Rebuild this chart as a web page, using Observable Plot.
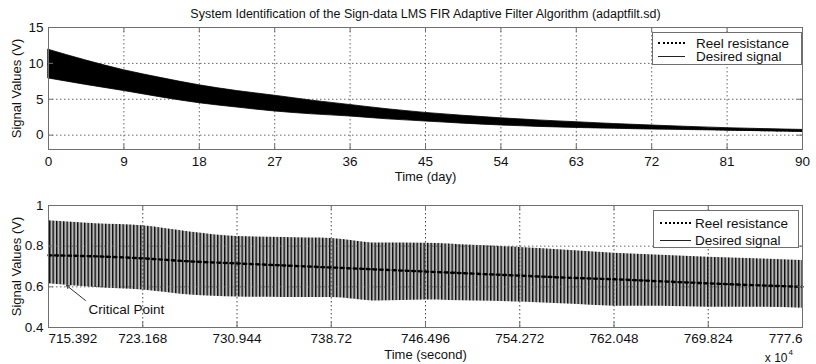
<!DOCTYPE html>
<html>
<head>
<meta charset="utf-8">
<script src="https://cdn.jsdelivr.net/npm/d3@7"></script>
<script src="https://cdn.jsdelivr.net/npm/@observablehq/plot@0.6"></script>
<style>
  body { margin: 0; background: #fff; font-family: "Liberation Sans", Arial, sans-serif; }
  #wrap { position: relative; width: 816px; height: 364px; overflow: hidden; background: #fff; }
  #wrap > svg { position: absolute; left: 0; }
  .legend { position: absolute; background: #fff; border: 1px solid #6f6f6f; box-sizing: border-box; font-size: 13.5px; color: #111; }
  .legend .sample { position: absolute; height: 0; }
  .legend .lab { position: absolute; white-space: nowrap; line-height: 11px; transform: translateY(-50%); }
</style>
</head>
<body>
<div id="wrap"></div>
<script>
// ---------- data: top panel (time in days) ----------
const titleText = "System Identification of the Sign-data LMS FIR Adaptive Filter Algorithm (adaptfilt.sd)";
const days      = [0, 4.5, 9, 13.5, 18, 22.5, 27, 31.5, 36, 40.5, 45, 49.5, 54, 58.5, 63, 67.5, 72, 76.5, 81, 85.5, 90];
const topUpper  = [11.9, 10.4, 9.05, 7.95, 6.95, 6.15, 5.5, 4.8, 4.2, 3.6, 3.1, 2.7, 2.35, 2.05, 1.8, 1.55, 1.34, 1.15, 0.97, 0.84, 0.73];
const topLower  = [7.9, 7.0, 6.15, 5.25, 4.45, 3.85, 3.3, 2.9, 2.6, 2.2, 1.9, 1.6, 1.35, 1.15, 1.0, 0.89, 0.78, 0.71, 0.63, 0.54, 0.47];
const topResist = [9.9, 8.7, 7.6, 6.6, 5.7, 5.0, 4.4, 3.85, 3.4, 2.9, 2.5, 2.15, 1.85, 1.6, 1.4, 1.22, 1.06, 0.93, 0.8, 0.69, 0.6];
const dayTicks  = [0, 9, 18, 27, 36, 45, 54, 63, 72, 81, 90];
const topYTicks = [0, 5, 10, 15];
const topYDomain = [-2, 15];

// ---------- data: bottom panel (time in 10^4 seconds) ----------
const secX      = [715.392, 719.28, 723.168, 727.056, 730.944, 734.832, 738.72, 742.608, 746.496, 750.384, 754.272, 758.16, 762.048, 765.936, 769.824, 773.712, 777.6];
const botUpper  = [0.925, 0.91, 0.90, 0.87, 0.848, 0.843, 0.838, 0.815, 0.814, 0.804, 0.794, 0.78, 0.765, 0.755, 0.745, 0.738, 0.73];
const botLower  = [0.615, 0.597, 0.585, 0.56, 0.55, 0.548, 0.548, 0.53, 0.535, 0.53, 0.525, 0.515, 0.505, 0.505, 0.50, 0.50, 0.495];
const botResist = [0.755, 0.75, 0.74, 0.725, 0.715, 0.705, 0.695, 0.685, 0.675, 0.665, 0.655, 0.645, 0.637, 0.627, 0.617, 0.608, 0.60];
const secTicks  = [715.392, 723.168, 730.944, 738.72, 746.496, 754.272, 762.048, 769.824, 777.6];
const secTickLabels = ["715.392", "723.168", "730.944", "738.72", "746.496", "754.272", "762.048", "769.824", "777.6"];
const botYTicks = [0.4, 0.6, 0.8, 1];
const botYTickLabels = ["0.4", "0.6", "0.8", "1"];
const critLabel = ["Critical Point"];
const critText  = [718.69, 0.486];                  // label anchor (x, y)
const critArrow = [718.44, 0.533, 716.88, 0.607];   // x1, y1, x2, y2

const legendLabels = ["Reel resistance", "Desired signal"];

// ---------- shared settings ----------
const W = 816, ML = 48, MR = 14;
const PW = W - ML - MR;
const FONT = '"Liberation Sans", Arial, sans-serif';
const gridStyle = {stroke: "#555", strokeOpacity: 0.9, strokeWidth: 1, strokeDasharray: "1.5,2.5"};
const frameColor = "#707070";
const T = {fill: "#111", lineAnchor: "middle"};

function innerTicks(xt, yt, PH) {
  return [
    Plot.ruleX(xt, {x: d => d, insetTop: PH - 5, stroke: frameColor}),
    Plot.ruleX(xt, {x: d => d, insetBottom: PH - 5, stroke: frameColor}),
    Plot.ruleY(yt, {y: d => d, insetRight: PW - 5, stroke: frameColor}),
    Plot.ruleY(yt, {y: d => d, insetLeft: PW - 5, stroke: frameColor})
  ];
}

// ---------- top panel ----------
const topData = days.map((t, i) => ({t, hi: topUpper[i], lo: topLower[i], r: topResist[i]}));
const TOP_H = 182, TOP_MT = 27, TOP_MB = 33, TOP_PH = TOP_H - TOP_MT - TOP_MB;
const topPlot = Plot.plot({
  width: W, height: TOP_H,
  marginLeft: ML, marginRight: MR, marginTop: TOP_MT, marginBottom: TOP_MB,
  style: {fontFamily: FONT, fontSize: "13.5px", color: "#111", background: "transparent", overflow: "visible"},
  x: {domain: [0, 90], axis: null},
  y: {domain: topYDomain, ticks: topYTicks, tickSize: 0, tickPadding: 5, label: null},
  marks: [
    Plot.ruleX(dayTicks.slice(1, -1), {x: d => d, ...gridStyle}),
    Plot.ruleY(topYTicks.slice(0, -1), {y: d => d, ...gridStyle}),
    Plot.areaY(topData, {x: "t", y1: "lo", y2: "hi", fill: "#000", stroke: "#000", strokeWidth: 0.8, curve: "monotone-x"}),
    Plot.line(topData, {x: "t", y: "r", stroke: "#000", strokeWidth: 2, strokeDasharray: "2,2", curve: "monotone-x"}),
    Plot.frame({stroke: frameColor}),
    ...innerTicks(dayTicks, topYTicks, TOP_PH),
    Plot.text(dayTicks, {x: d => d, text: d => String(d), frameAnchor: "bottom", dy: 12, ...T}),
    Plot.text(["Time (day)"], {text: d => d, frameAnchor: "bottom", dy: 27, fontSize: 13, ...T}),
    Plot.text(["Signal Values (V)"], {text: d => d, frameAnchor: "left", dx: -32, rotate: -90, textAnchor: "middle", fontSize: 13, ...T}),
    Plot.text([titleText], {text: d => d, frameAnchor: "top", dy: -14, textAnchor: "middle", fontSize: 12.5, ...T})
  ]
});
topPlot.style.top = "0px";

// ---------- bottom panel ----------
const botData = secX.map((t, i) => ({t, hi: botUpper[i], lo: botLower[i], r: botResist[i]}));
const BOT_H = 182, BOT_MT = 23, BOT_MB = 37, BOT_PH = BOT_H - BOT_MT - BOT_MB;
const lastI = secTicks.length - 1;
const botPlot = Plot.plot({
  width: W, height: BOT_H,
  marginLeft: ML, marginRight: MR, marginTop: BOT_MT, marginBottom: BOT_MB,
  style: {fontFamily: FONT, fontSize: "13.5px", color: "#111", background: "transparent", overflow: "visible"},
  x: {domain: [secTicks[0], secTicks[lastI]], axis: null},
  y: {domain: [0.4, 1], ticks: botYTicks, tickFormat: d => botYTickLabels[botYTicks.indexOf(d)], tickSize: 0, tickPadding: 5, label: null},
  marks: [
    Plot.areaY(botData, {x: "t", y1: "lo", y2: "hi", fill: "#888", curve: "monotone-x"}),
    Plot.ruleX(secTicks.slice(1, -1), {x: d => d, ...gridStyle, stroke: "#333"}),
    Plot.ruleY(botYTicks.slice(1, -1), {y: d => d, ...gridStyle}),
    Plot.line(botData, {x: "t", y: "r", stroke: "#000", strokeWidth: 2.4, strokeDasharray: "3,3.5", curve: "monotone-x"}),
    Plot.frame({stroke: frameColor}),
    ...innerTicks(secTicks, botYTicks, BOT_PH),
    Plot.text([0], {x: i => secTicks[i], text: i => secTickLabels[i], frameAnchor: "bottom", dy: 11, textAnchor: "start", ...T}),
    Plot.text(d3.range(1, lastI), {x: i => secTicks[i], text: i => secTickLabels[i], frameAnchor: "bottom", dy: 11, textAnchor: "middle", ...T}),
    Plot.text([lastI], {x: i => secTicks[i], text: i => secTickLabels[i], frameAnchor: "bottom", dy: 11, textAnchor: "end", ...T}),
    Plot.text(["Time (second)"], {text: d => d, frameAnchor: "bottom", dy: 27, textAnchor: "middle", fontSize: 13, ...T}),
    Plot.text(["x 10"], {text: d => d, frameAnchor: "bottom-right", dx: -15, dy: 31, textAnchor: "end", fontSize: 12, ...T}),
    Plot.text(["4"], {text: d => d, frameAnchor: "bottom-right", dx: -14, dy: 25, textAnchor: "start", fontSize: 8, ...T}),
    Plot.text(["Signal Values (V)"], {text: d => d, frameAnchor: "left", dx: -32, rotate: -90, textAnchor: "middle", fontSize: 13, ...T}),
    Plot.arrow([critArrow], {x1: d => d[0], y1: d => d[1], x2: d => d[2], y2: d => d[3], stroke: "#333", strokeWidth: 1, headLength: 5}),
    Plot.text(critLabel, {x: () => critText[0], y: () => critText[1], text: d => d, textAnchor: "start", fontSize: 13.5, ...T})
  ]
});
botPlot.style.top = "182px";

// pattern for the dense oscillation of the desired signal
const defs = d3.select(botPlot).insert("defs", ":first-child");
const pat = defs.append("pattern").attr("id", "vlines").attr("patternUnits", "userSpaceOnUse")
  .attr("x", 0).attr("y", 0).attr("width", 3.5).attr("height", 20);
pat.append("rect").attr("width", 3.5).attr("height", 20).attr("fill", "#b8b8b8");
pat.append("rect").attr("width", 1.4).attr("height", 20).attr("fill", "#0c0c0c");
d3.select(botPlot).selectAll('g[aria-label="area"]').attr("fill", "url(#vlines)")
  .selectAll("path").attr("fill", "url(#vlines)");

const wrap = document.getElementById("wrap");
wrap.appendChild(topPlot);
wrap.appendChild(botPlot);

// ---------- legends ----------
function addLegend(left, top, w, h, rowsY, sx0, sx1, tx) {
  const box = document.createElement("div");
  box.className = "legend";
  Object.assign(box.style, {left: left + "px", top: top + "px", width: w + "px", height: h + "px"});
  legendLabels.forEach((label, i) => {
    const s = document.createElement("div");
    s.className = "sample";
    Object.assign(s.style, {left: sx0 + "px", width: (sx1 - sx0) + "px", top: (rowsY[i] - (i === 0 ? 1 : 0.5)) + "px",
      borderTop: i === 0 ? "2.2px dotted #000" : "1px solid #222"});
    box.appendChild(s);
    const t = document.createElement("div");
    t.className = "lab";
    t.textContent = label;
    Object.assign(t.style, {left: tx + "px", top: rowsY[i] + "px"});
    box.appendChild(t);
  });
  wrap.appendChild(box);
}
addLegend(652, 32, 150, 33, [9.5, 23], 5, 32, 43);
addLegend(653, 210, 146, 38, [12, 29], 6, 37, 41);
</script>
</body>
</html>
